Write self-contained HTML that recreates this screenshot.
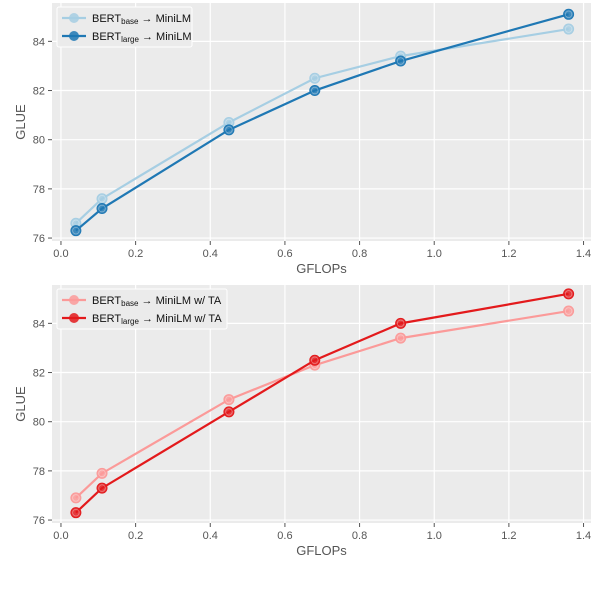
<!DOCTYPE html>
<html><head><meta charset="utf-8"><style>
body{margin:0;background:#fff;width:606px;height:590px;overflow:hidden}
svg text{font-family:"Liberation Sans",sans-serif}
</style></head><body>
<svg id="chart" width="606" height="590"></svg>
<script>
const xVals=[0.04,0.11,0.45,0.68,0.91,1.36];
const topBase=[76.6,77.6,80.7,82.5,83.4,84.5];
const topLarge=[76.3,77.2,80.4,82.0,83.2,85.1];
const botBase=[76.9,77.9,80.9,82.3,83.4,84.5];
const botLarge=[76.3,77.3,80.4,82.5,84.0,85.2];
const xTicks=[0,0.2,0.4,0.6,0.8,1.0,1.2,1.4];
const yTicks=[76,78,80,82,84];

const NS="http://www.w3.org/2000/svg";
const svg=document.getElementById('chart');
function mk(t,a,p){const e=document.createElementNS(NS,t);for(const k in a)e.setAttribute(k,a[k]);(p||svg).appendChild(e);return e;}
const L=52,R=591,H=238,xMin=-0.024,xMax=1.42,yMin=75.88,yMax=85.56;

function panel(top,series,name,ptitle){
  const g=mk('g',{});
  
  
  const xs=v=>L+(v-xMin)/(xMax-xMin)*(R-L);
  const ys=v=>top+H-(v-yMin)/(yMax-yMin)*H;
  const bg=mk('rect',{x:L,y:top,width:R-L,height:H,fill:'#ebebeb'},g);
  
  
  xTicks.forEach(t=>{
    mk('line',{x1:xs(t),x2:xs(t),y1:top,y2:top+H,stroke:'#fff','stroke-width':1.2},g);
    mk('line',{x1:xs(t),x2:xs(t),y1:top+H,y2:top+H+4,stroke:'#555'},g);
    const tx=mk('text',{x:xs(t),y:top+H+16,'text-anchor':'middle','font-size':11,fill:'#555'},g);
    tx.textContent=t.toFixed(1);
    
    
  });
  yTicks.forEach(t=>{
    mk('line',{x1:L,x2:R,y1:ys(t),y2:ys(t),stroke:'#fff','stroke-width':1.2},g);
    mk('line',{x1:L-4,x2:L,y1:ys(t),y2:ys(t),stroke:'#555'},g);
    const tx=mk('text',{x:L-7,y:ys(t)+4,'text-anchor':'end','font-size':11,fill:'#555'},g);
    tx.textContent=t;
    
    
  });
  const xt=mk('text',{x:(L+R)/2,y:top+H+32,'text-anchor':'middle','font-size':13,fill:'#555'},g);
  xt.textContent='GFLOPs';
  
  
  const yt=mk('text',{x:25,y:top+H/2,'text-anchor':'middle','font-size':13,fill:'#555',transform:`rotate(-90 25 ${top+H/2})`},g);
  yt.textContent='GLUE';
  
  
  series.forEach(s=>{
    const pl=mk('polyline',{points:xVals.map((x,i)=>xs(x)+','+ys(s.v[i])).join(' '),fill:'none',stroke:s.c,'stroke-width':2.2},g);
    
    
    xVals.forEach((x,i)=>{
      const c=mk('circle',{cx:xs(x),cy:ys(s.v[i]),r:5,fill:s.c,'fill-opacity':0.85,stroke:s.c,'stroke-width':1},g);
      
      
      mk('circle',{cx:xs(x),cy:ys(s.v[i]),r:3.3,fill:'none',stroke:'#fff','stroke-opacity':0.35,'stroke-width':0.8},g);
    });
  });
  // legend
  const lg=mk('g',{},g);
  
  
  const w=ptitle?170:135;
  mk('rect',{x:57,y:top+4,width:w,height:40,fill:'#ebebeb',stroke:'#fff','stroke-width':1,rx:2},lg);
  series.forEach((s,i)=>{
    const yy=top+15+i*18;
    mk('line',{x1:62,x2:86,y1:yy,y2:yy,stroke:s.c,'stroke-width':2.2},lg);
    mk('circle',{cx:74,cy:yy,r:5,fill:s.c,'fill-opacity':0.85},lg);
    const t=mk('text',{x:92,y:yy+4,'font-size':11,fill:'#111'},lg);
    t.innerHTML=`BERT<tspan font-size="8" dy="2">${s.sub}</tspan><tspan dy="-2"> → MiniLM${ptitle||''}</tspan>`;
    
    
  });
}
panel(3,[{v:topBase,c:'#a6cee3',n:'base-minilm',sub:'base'},{v:topLarge,c:'#1f78b4',n:'large-minilm',sub:'large'}],'top-panel','');
panel(285,[{v:botBase,c:'#fb9a99',n:'base-minilm-ta',sub:'base'},{v:botLarge,c:'#e31a1c',n:'large-minilm-ta',sub:'large'}],'bottom-panel',' w/ TA');
</script>
</body></html>
